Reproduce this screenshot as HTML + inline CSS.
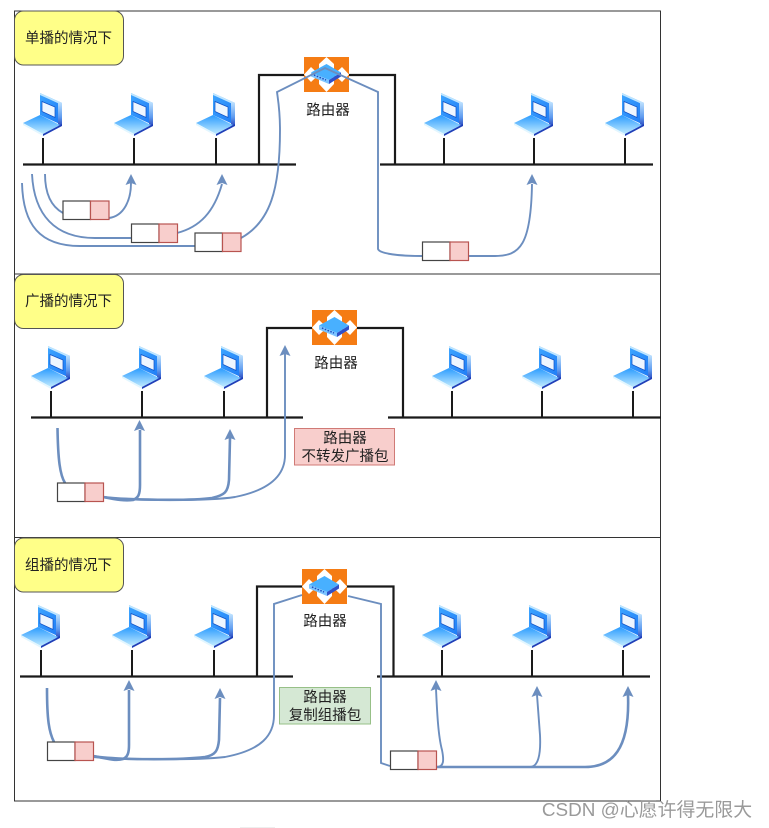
<!DOCTYPE html>
<html><head><meta charset="utf-8">
<style>
html,body{margin:0;padding:0;background:#fff;width:769px;height:828px;overflow:hidden}
svg{display:block}
text{font-family:"Liberation Sans","Noto Sans CJK SC",sans-serif;fill:#222;font-size:14.500px;text-anchor:middle}
.c{fill:none;stroke:#6c8ebf;stroke-width:1.900}
.t{stroke-width:2.600}
.a{fill:#6c8ebf;stroke:none}
.w{fill:#fff;stroke:#444;stroke-width:1.200}
.p{fill:#f8cecc;stroke:#b85450;stroke-width:1.200}
.y{fill:#ffff88;stroke:#555;stroke-width:1}
.k{stroke:#1a1a1a;fill:none;stroke-width:2.200}
</style></head><body>
<svg width="769" height="828" viewBox="0 0 769 828" xmlns="http://www.w3.org/2000/svg">
<defs>
<linearGradient id="g1" x1="0" y1="0" x2="1" y2="1"><stop offset="0" stop-color="#3ea6ff"/><stop offset="1" stop-color="#1c78f5"/></linearGradient>
<linearGradient id="g2" x1="0" y1="0" x2="0" y2="1"><stop offset="0" stop-color="#2b9bff"/><stop offset="1" stop-color="#bfeaff"/></linearGradient>
<linearGradient id="g3" x1="0" y1="0" x2="0" y2="1"><stop offset="0" stop-color="#bfe2ff"/><stop offset=".6" stop-color="#5f9cf0"/><stop offset="1" stop-color="#2540b8"/></linearGradient>
<g id="lap">
<polygon points="-3,0 19,10 19,32 -3,22" fill="url(#g1)"/>
<polygon points="-3,0 19,10 19,12 -3,2" fill="#bfe6ff"/>
<polygon points="15,9 19,10 19,32 15,34" fill="url(#g3)"/>
<polygon points="-1,8.500 12,14 12,24.500 -1,18.500" fill="#eef6ff" stroke="#0f4fc4" stroke-width=".7"/>
<polygon points="-3,22 17,32 0,41 -20,30" fill="url(#g2)"/>
<polygon points="-20,30 0,41 0,43 -20,32" fill="#e2f6ff"/>
<polygon points="0,41 19,31 19,33 0,43" fill="#1f3fb8"/>
<line x1="0" y1="45" x2="0" y2="71" stroke="#1a1a1a" stroke-width="2"/>
</g>
<g id="rt">
<rect x="0" y="0" width="45" height="35" fill="#f57c14"/>
<polygon points="22.500,0 30,7 15,7" fill="#fff"/>
<polygon points="22.500,35 30,27 15,27" fill="#fff"/>
<polygon points="0,17.500 7,10 15,17.500 7,25" fill="#fff"/>
<polygon points="45,17.500 38,10 30,17.500 38,25" fill="#fff"/>
<polygon points="15,7 30,7 30,27 15,27" fill="#fff"/>
<polygon points="22.500,7 37,15.500 25,23 7,15.500" fill="#48b0ff"/>
<polygon points="7,15.500 25,23 25,27 7,19.500" fill="#7cc4ff"/>
<polygon points="25,23 37,15.500 37,19.500 25,27" fill="#3050c8"/>
<path d="M10 18l12 5" stroke="#1b4bc0" stroke-width="1.500" stroke-dasharray="1.500 1.500" fill="none"/>
</g>
<g id="pk">
<rect class="w" x="0" y="0" width="27.500" height="18.500"/>
<rect class="p" x="27.500" y="0" width="18.500" height="18.500"/>
</g>
<polygon id="ah" class="a" points="0,0 5.500,11 0,9 -5.500,11"/>
</defs>

<!-- panels -->
<rect x="14.500" y="11" width="646" height="263" fill="none" stroke="#333" stroke-width="1"/>
<rect x="14.500" y="274" width="646" height="263.500" fill="none" stroke="#333" stroke-width="1"/>
<rect x="14.500" y="537.500" width="646" height="263.500" fill="none" stroke="#333" stroke-width="1"/>

<!-- yellow labels -->
<rect class="y" x="14.500" y="11" width="109" height="54" rx="9"/>
<text x="68.500" y="43">单播的情况下</text>
<rect class="y" x="14.500" y="274.500" width="109" height="54" rx="9"/>
<text x="68.500" y="306">广播的情况下</text>
<rect class="y" x="14.500" y="538" width="109" height="54" rx="9"/>
<text x="68.500" y="570">组播的情况下</text>

<!-- PANEL 1 -->
<path class="k" d="M23 164.500H296M380 164.500H653"/>
<path class="k" d="M259 164V75H304M349 75H395V164"/>
<use href="#lap" x="43" y="93"/><use href="#lap" x="134" y="93"/><use href="#lap" x="216" y="93"/>
<use href="#lap" x="444" y="93"/><use href="#lap" x="534" y="93"/><use href="#lap" x="625" y="93"/>
<use href="#rt" x="304" y="57"/>
<text x="328" y="115">路由器</text>
<path class="c" d="M45 174C45 195 52 207 63 213"/>
<path class="c" d="M109 218C124 216 131 200 131 183"/>
<path class="c" d="M32 174C34 215 55 238 95 238H131"/>
<path class="c" d="M177 233C200 227 214 212 222 184"/>
<path class="c" d="M22 183C23 225 40 246 80 246H195"/>
<path class="c" d="M241 238C270 222 280 190 280 130C280 110 278 100 277 92L325 68L378 92V249C380 254 400 256 422 256"/>
<path class="c" d="M468 256H495C520 256 531 245 532 184"/>
<use href="#ah" x="131" y="174"/><use href="#ah" x="222" y="174"/><use href="#ah" x="532" y="174"/>
<use href="#pk" x="63" y="201"/><use href="#pk" x="131.500" y="224"/><use href="#pk" x="195" y="233"/><use href="#pk" x="422.500" y="242"/>

<!-- PANEL 2 -->
<path class="k" d="M31 417.500H303M388 417.500H661"/>
<path class="k" d="M267 417V328H312M357 328H403V417"/>
<use href="#lap" x="51" y="346"/><use href="#lap" x="142" y="346"/><use href="#lap" x="224" y="346"/>
<use href="#lap" x="452" y="346"/><use href="#lap" x="542" y="346"/><use href="#lap" x="633" y="346"/>
<use href="#rt" x="312" y="310"/>
<text x="336" y="368">路由器</text>
<path class="c t" d="M57.500 428C58 460 60 475 65 483"/>
<path class="c t" d="M103 497C118 500 125 501 133 500C138 498 140 495 140 485V430"/>
<path class="c t" d="M103 497C125 500 190 501 212 498C225 495 228 492 229 480L230 438"/>
<path class="c" d="M103 497C130 501 210 501 235 497C270 490 285 475 285 455V354"/>
<use href="#ah" x="139.500" y="420"/><use href="#ah" x="230" y="429"/><use href="#ah" x="285" y="345"/>
<use href="#pk" x="57.500" y="483"/>
<rect x="294.500" y="428.500" width="100" height="36.500" fill="#f8cecc" stroke="#d07a76" stroke-width="1"/>
<text x="345" y="443">路由器</text>
<text x="345" y="461">不转发广播包</text>

<!-- PANEL 3 -->
<path class="k" d="M20 676.500H293M377 676.500H650"/>
<path class="k" d="M257 676V586.500H302M347 586.500H393.500V676"/>
<use href="#lap" x="41" y="605"/><use href="#lap" x="132" y="605"/><use href="#lap" x="214" y="605"/>
<use href="#lap" x="442" y="605"/><use href="#lap" x="532" y="605"/><use href="#lap" x="623" y="605"/>
<use href="#rt" x="302" y="569"/>
<text x="325" y="626">路由器</text>
<path class="c t" d="M47 688C47 720 49 732 54 742"/>
<path class="c t" d="M93 756C108 759 116 761 123 759C128 757 129 752 129 745V690"/>
<path class="c t" d="M93 756C115 760 180 760 205 757C216 755 218 750 219 740L220 698"/>
<path class="c" d="M93 757C130 760 200 760 225 757C262 750 274 735 274 715V604L302 595"/>
<path class="c" d="M348 596L381 604V763L390 766"/>
<path class="c t" d="M436 767H585C612 767 630 750 628 695"/>
<path class="c" d="M436 767H530C538 767 541 755 540 735C539 720 538 710 537 695"/>
<path class="c" d="M436 767H437C444 767 444 760 442 750C438 735 437 710 436 689"/>
<use href="#ah" x="436" y="680"/><use href="#ah" x="537" y="686"/><use href="#ah" x="628" y="686"/>
<use href="#ah" x="129" y="680"/><use href="#ah" x="220" y="688"/>
<use href="#pk" x="47.500" y="742"/><use href="#pk" x="390.500" y="751"/>
<rect x="279.500" y="687.500" width="91" height="36.500" fill="#d5e8d4" stroke="#97c087" stroke-width="1"/>
<text x="325" y="702">路由器</text>
<text x="325" y="720">复制组播包</text>

<!-- watermark -->
<text x="647" y="816" style="font-size:18.900px;fill:#9a9a9a">CSDN @心愿许得无限大</text>
<rect x="240" y="827" width="35" height="2" fill="#eee"/>
</svg>
</body></html>
